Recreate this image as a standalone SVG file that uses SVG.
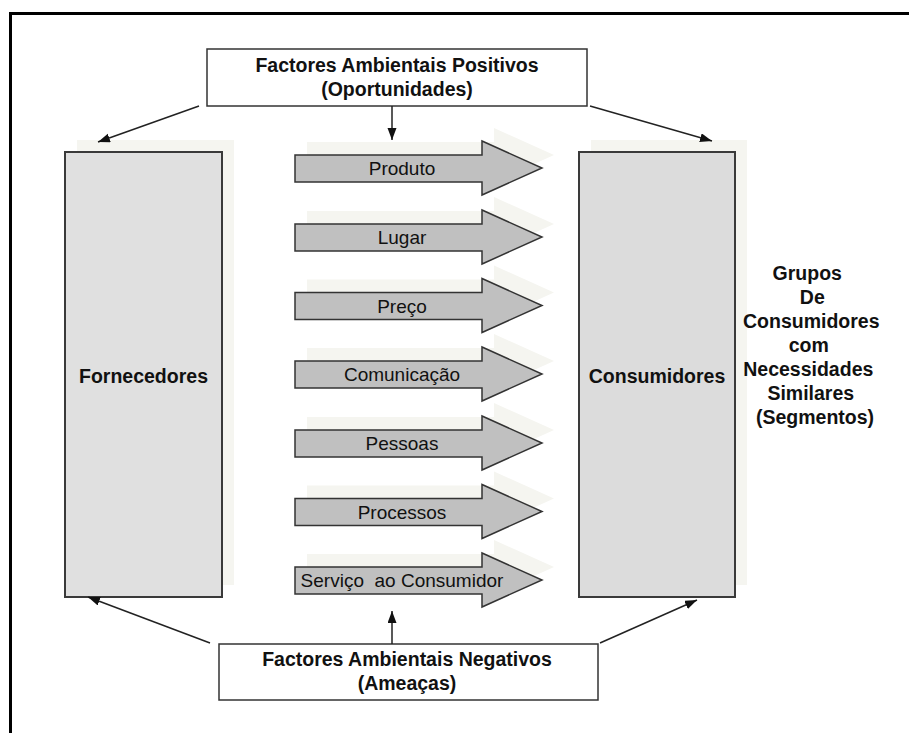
<svg xmlns="http://www.w3.org/2000/svg" width="909" height="733" viewBox="0 0 909 733">
  <style>
    text { font-family: "Liberation Sans", Arial, sans-serif; fill: #111; }
    .b { font-weight: bold; font-size: 19.5px; }
    .r { font-size: 19px; }
    .box { fill: #fff; stroke: #333; stroke-width: 1.5; }
    .col { stroke: #3a3a3a; stroke-width: 2; }
    .shadow { fill: #f5f5f0; }
    .blk { fill: #c0c0c0; stroke: #333; stroke-width: 1.5; }
    .con { stroke: #222; stroke-width: 1.5; fill: none; marker-end: url(#head); }
  </style>
  <defs>
    <marker id="head" markerUnits="userSpaceOnUse" markerWidth="13" markerHeight="10" refX="12" refY="4.5" orient="auto">
      <path d="M0,0 L12,4.5 L0,9 Z" fill="#111"/>
    </marker>
    <path id="blockArrow" d="M0,-13 H187 V-27 L247,0 L187,27 V14 H0 Z"/>
  </defs>

  <rect width="909" height="733" fill="#fff"/>
  <!-- outer frame -->
  <rect x="10.5" y="13.5" width="960" height="800" fill="none" stroke="#000" stroke-width="3"/>

  <!-- suppliers column -->
  <g id="fornecedores">
    <rect class="shadow" x="77" y="140" width="157" height="445"/>
    <rect class="col" x="65" y="152" width="157" height="445" fill="#e0e0e0"/>
    <text class="b" x="143.5" y="383" text-anchor="middle">Fornecedores</text>
  </g>

  <!-- consumers column -->
  <g id="consumidores">
    <rect class="shadow" x="591" y="140" width="156" height="445"/>
    <rect class="col" x="579" y="152" width="156" height="445" fill="#dcdcdc"/>
    <text class="b" x="657" y="383" text-anchor="middle">Consumidores</text>
  </g>

  <!-- marketing mix arrows -->
  <g id="produto" transform="translate(295,168)">
    <use href="#blockArrow" class="shadow" transform="translate(12,-13)"/>
    <use href="#blockArrow" class="blk"/>
    <text class="r" x="107" y="7" text-anchor="middle">Produto</text>
  </g>
  <g id="lugar" transform="translate(295,237)">
    <use href="#blockArrow" class="shadow" transform="translate(12,-13)"/>
    <use href="#blockArrow" class="blk"/>
    <text class="r" x="107" y="7" text-anchor="middle">Lugar</text>
  </g>
  <g id="preco" transform="translate(295,305.5)">
    <use href="#blockArrow" class="shadow" transform="translate(12,-13)"/>
    <use href="#blockArrow" class="blk"/>
    <text class="r" x="107" y="7" text-anchor="middle">Preço</text>
  </g>
  <g id="comunicacao" transform="translate(295,374)">
    <use href="#blockArrow" class="shadow" transform="translate(12,-13)"/>
    <use href="#blockArrow" class="blk"/>
    <text class="r" x="107" y="7" text-anchor="middle">Comunicação</text>
  </g>
  <g id="pessoas" transform="translate(295,443)">
    <use href="#blockArrow" class="shadow" transform="translate(12,-13)"/>
    <use href="#blockArrow" class="blk"/>
    <text class="r" x="107" y="7" text-anchor="middle">Pessoas</text>
  </g>
  <g id="processos" transform="translate(295,511.5)">
    <use href="#blockArrow" class="shadow" transform="translate(12,-13)"/>
    <use href="#blockArrow" class="blk"/>
    <text class="r" x="107" y="7" text-anchor="middle">Processos</text>
  </g>
  <g id="servico" transform="translate(295,580)">
    <use href="#blockArrow" class="shadow" transform="translate(12,-13)"/>
    <use href="#blockArrow" class="blk"/>
    <text class="r" x="107" y="7" text-anchor="middle" xml:space="preserve">Serviço  ao Consumidor</text>
  </g>

  <!-- environmental factors -->
  <g id="positivos">
    <rect class="box" x="207" y="49" width="380" height="57"/>
    <text class="b" x="397" y="72" text-anchor="middle">Factores Ambientais Positivos</text>
    <text class="b" x="397" y="96" text-anchor="middle">(Oportunidades)</text>
  </g>
  <g id="negativos">
    <rect class="box" x="219" y="644" width="379" height="56"/>
    <text class="b" x="407" y="666" text-anchor="middle">Factores Ambientais Negativos</text>
    <text class="b" x="407" y="690" text-anchor="middle">(Ameaças)</text>
  </g>

  <!-- segments label -->
  <g id="segmentos">
    <text class="b" text-anchor="middle">
      <tspan x="810" y="280">Grupos</tspan>
      <tspan x="815" y="304">De</tspan>
      <tspan x="814" y="328">Consumidores</tspan>
      <tspan x="811.5" y="352">com</tspan>
      <tspan x="811" y="376">Necessidades</tspan>
      <tspan x="813.5" y="400">Similares</tspan>
      <tspan x="815" y="424">(Segmentos)</tspan>
    </text>
  </g>

  <!-- connectors -->
  <g id="connectors">
    <line class="con" x1="392" y1="106" x2="392" y2="140"/>
    <line class="con" x1="199" y1="106" x2="98" y2="142"/>
    <line class="con" x1="590" y1="106" x2="712" y2="141"/>
    <line class="con" x1="392" y1="644" x2="392" y2="611"/>
    <line class="con" x1="210" y1="643" x2="88" y2="597"/>
    <line class="con" x1="600" y1="643" x2="697" y2="600"/>
  </g>
</svg>
